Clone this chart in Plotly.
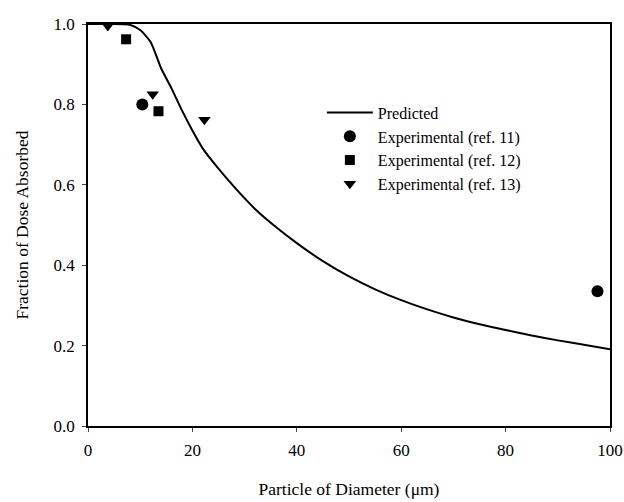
import plotly.graph_objects as go

# Predicted curve
pred_x = [0, 4, 8, 10, 12, 14, 16, 18, 20, 22, 25, 28, 32, 36, 40, 45, 50, 55, 60, 65, 70, 75, 80, 85, 90, 95, 100]
pred_y = [1.0, 1.0, 0.998, 0.985, 0.955, 0.89, 0.84, 0.785, 0.735, 0.69, 0.64, 0.595, 0.54, 0.495, 0.455,
          0.41, 0.372, 0.34, 0.313, 0.29, 0.27, 0.253, 0.239, 0.225, 0.213, 0.202, 0.191]

ref11_x = [10.4, 97.6]
ref11_y = [0.80, 0.335]
ref12_x = [7.3, 13.5]
ref12_y = [0.962, 0.783]
ref13_x = [3.8, 12.4, 22.3]
ref13_y = [0.995, 0.825, 0.762]

x_ticks = [0, 20, 40, 60, 80, 100]
y_ticks = [0.0, 0.2, 0.4, 0.6, 0.8, 1.0]
y_tick_labels = ["0.0", "0.2", "0.4", "0.6", "0.8", "1.0"]

font = "Liberation Serif, Times New Roman, serif"

fig = go.Figure()
fig.add_trace(go.Scatter(x=pred_x, y=pred_y, mode="lines", name="Predicted",
                         line=dict(color="black", width=2, shape="spline", smoothing=0.6)))
fig.add_trace(go.Scatter(x=ref11_x, y=ref11_y, mode="markers", name="Experimental (ref. 11)",
                         cliponaxis=False,
                         marker=dict(symbol="circle", size=12, color="black")))
fig.add_trace(go.Scatter(x=ref12_x, y=ref12_y, mode="markers", name="Experimental (ref. 12)",
                         cliponaxis=False,
                         marker=dict(symbol="square", size=10, color="black")))
fig.add_trace(go.Scatter(x=ref13_x, y=ref13_y, mode="markers", name="Experimental (ref. 13)",
                         cliponaxis=False,
                         marker=dict(symbol="triangle-down", size=11, color="black")))

fig.update_layout(
    width=624, height=502,
    margin=dict(l=88, r=14, t=24, b=76, autoexpand=False),
    paper_bgcolor="white", plot_bgcolor="white",
    font=dict(family=font, size=16, color="black"),
    showlegend=True,
    legend=dict(x=0.448, y=0.822, xanchor="left", yanchor="top",
                bgcolor="rgba(0,0,0,0)", font=dict(family=font, size=16),
                itemwidth=46, tracegroupgap=0),
    xaxis=dict(range=[0, 100], tickvals=x_ticks, ticks="outside", ticklen=4,
               ticklabelstandoff=4, automargin=False,
               showline=True, linecolor="black", linewidth=1.5, mirror=True,
               showgrid=False, zeroline=False,
               tickfont=dict(family=font, size=17),
               title=dict(text="Particle of Diameter (μm)", standoff=24,
                          font=dict(family=font, size=17.5))),
    yaxis=dict(range=[0, 1.0], tickvals=y_ticks, ticktext=y_tick_labels, ticks="outside", ticklen=4,
               ticklabelstandoff=4, automargin=False,
               showline=True, linecolor="black", linewidth=1.5, mirror=True,
               showgrid=False, zeroline=False,
               tickfont=dict(family=font, size=17),
               title=dict(text="Fraction of Dose Absorbed", standoff=20,
                          font=dict(family=font, size=17.5))),
)

fig.write_html("out.html",
               config={"displayModeBar": False},
               post_script="document.body.style.margin='0';document.body.style.overflow='hidden';")
